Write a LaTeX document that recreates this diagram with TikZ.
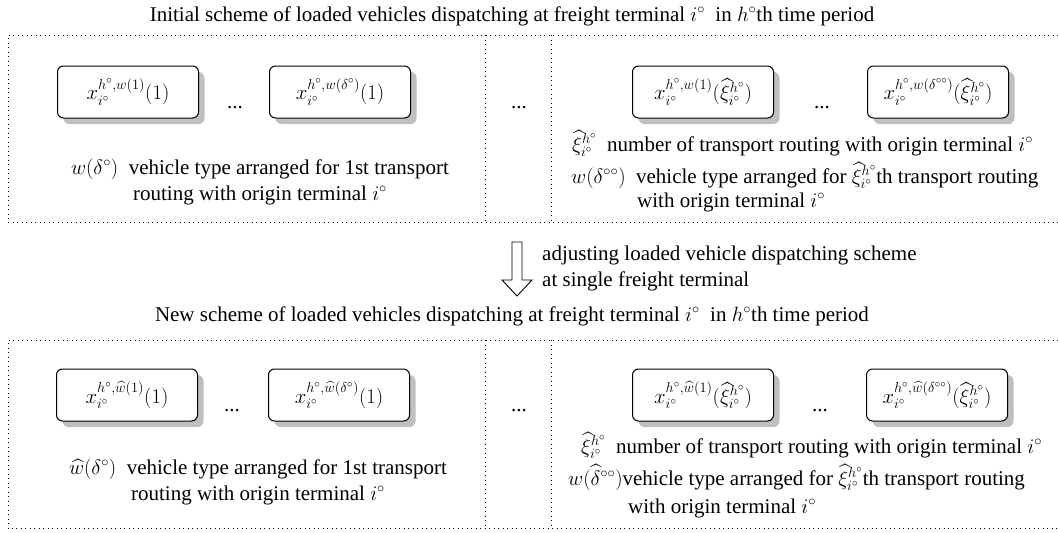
\documentclass[tikz,border=0pt]{standalone}
\usepackage{amsmath,amssymb}
\usepackage{fontspec}
\setmainfont{Liberation Serif}
\usepackage{xcolor}
\usetikzlibrary{shadows}
\definecolor{shadowgray}{RGB}{190,191,194}

\begin{document}
\begin{tikzpicture}[
  x=1pt, y=-1pt,
  every node/.style={font=\fontsize{21}{26}\selectfont, inner sep=0pt},
  cell/.style={draw, rounded corners=6pt, line width=1pt, fill=white,
    minimum width=141pt, minimum height=52pt,
    font=\fontsize{22}{26}\selectfont,
    drop shadow={shadow xshift=6pt, shadow yshift=-6pt, fill=shadowgray, opacity=1}},
  frame/.style={line width=0.9pt, dash pattern=on 0.9pt off 3.6pt},
  etc/.style={anchor=base}
]
\useasboundingbox (0,0) rectangle (1058,533);

% initial scheme
\node (title1) [anchor=base] at (512,21) {Initial scheme of loaded vehicles dispatching at freight terminal $i^\circ$\ \ in $h^\circ$th time period};
\draw[frame] (1058,35) -- (8,35) -- (8,222) -- (1058,222);
\draw[frame] (485,35) -- (485,222);
\draw[frame] (551,35) -- (551,222);

\node[cell] (a1) at (128,92) {$x^{h^\circ,w(1)}_{i^\circ}(1)$};
\node[cell] (a2) at (340,92) {$x^{h^\circ,w(\delta^\circ)}_{i^\circ}(1)$};
\node[cell] (a3) at (703,92) {$x^{h^\circ,w(1)}_{i^\circ}(\widehat{\xi}^{h^\circ}_{i^\circ})$};
\node[cell] (a4) at (938,92) {$x^{h^\circ,w(\delta^{\circ\circ})}_{i^\circ}(\widehat{\xi}^{h^\circ}_{i^\circ})$};
\node[etc] (da1) at (235,108) {...};
\node[etc] (da2) at (519,108) {...};
\node[etc] (da3) at (822,108) {...};

\node (la) [anchor=base, align=center] at (260,200) {$w(\delta^\circ)$\ \ vehicle type arranged for 1st transport\\routing with origin terminal $i^\circ$};
\node (ra1) [anchor=base west] at (572,151) {$\widehat{\xi}^{h^\circ}_{i^\circ}$\ \ number of transport routing with origin terminal $i^\circ$};
\node (ra2) [anchor=base west] at (571,183) {$w(\delta^{\circ\circ})$\ \ vehicle type arranged for $\widehat{\xi}^{h^\circ}_{i^\circ}$th transport routing};
\node (ra3) [anchor=base west] at (637,207) {with origin terminal $i^\circ$};

% adjusting step
\coordinate (tip) at (517,296);
\draw[line width=0.9pt, fill=white] (512,242) -- (522,242) -- (522,280) -- (532,280) -- (tip) -- (502,280) -- (512,280) -- cycle;
\node (adj) [anchor=base west, align=left] at (542,286) {adjusting loaded vehicle dispatching scheme\\at single freight terminal};

% new scheme
\node (title2) [anchor=base] at (512,321) {New scheme of loaded vehicles dispatching at freight terminal $i^\circ$\ \ in $h^\circ$th time period};
\draw[frame] (1058,340) -- (8,340) -- (8,528) -- (1058,528);
\draw[frame] (485,340) -- (485,528);
\draw[frame] (551,340) -- (551,528);

\node[cell] (b1) at (127,395) {$x^{h^\circ,\widehat{w}(1)}_{i^\circ}(1)$};
\node[cell] (b2) at (339,395) {$x^{h^\circ,\widehat{w}(\delta^\circ)}_{i^\circ}(1)$};
\node[cell] (b3) at (703,395) {$x^{h^\circ,\widehat{w}(1)}_{i^\circ}(\widehat{\xi}^{h^\circ}_{i^\circ})$};
\node[cell] (b4) at (937,395) {$x^{h^\circ,\widehat{w}(\delta^{\circ\circ})}_{i^\circ}(\widehat{\xi}^{h^\circ}_{i^\circ})$};
\node[etc] (db1) at (232,411) {...};
\node[etc] (db2) at (519,411) {...};
\node[etc] (db3) at (820,411) {...};

\node (lb) [anchor=base, align=center] at (258,500) {$\widehat{w}(\delta^\circ)$\ \ vehicle type arranged for 1st transport\\routing with origin terminal $i^\circ$};
\node (rb1) [anchor=base west] at (581,453) {$\widehat{\xi}^{h^\circ}_{i^\circ}$\ \ number of transport routing with origin terminal $i^\circ$};
\node (rb2) [anchor=base west] at (568,485) {$w(\widehat{\delta}^{\circ\circ})$vehicle type arranged for $\widehat{\xi}^{h^\circ}_{i^\circ}$th transport routing};
\node (rb3) [anchor=base west] at (628,513) {with origin terminal $i^\circ$};
\end{tikzpicture}
\end{document}
